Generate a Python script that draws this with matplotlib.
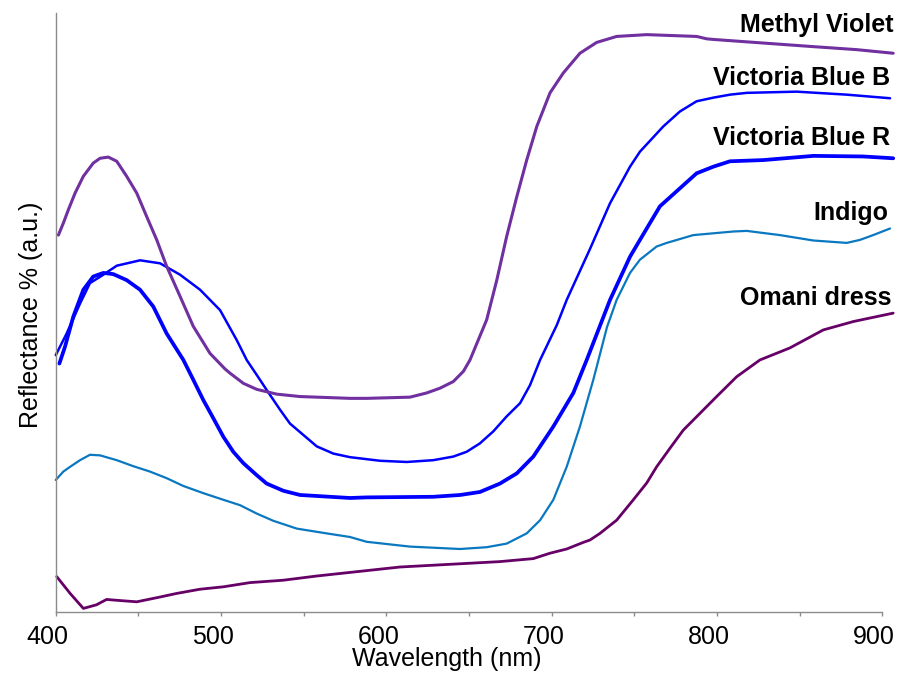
import matplotlib
matplotlib.use("Agg")
from matplotlib import pyplot as plt
from matplotlib import transforms

plt.rcParams['font.family'] = ['Liberation Sans', 'DejaVu Sans']

# 读图得到的数据 (nm, a.u.)
mv_nm = [401.6, 404.6, 407.6, 411.7, 416.7, 422.7, 426.8, 431.8, 436.9, 442.9, 449.0, 455.0,
         461.1, 467.1, 475.2, 483.2, 493.3, 502.4, 505.4, 513.5, 521.6, 533.7, 547.8, 578.0,
         588.1, 614.3, 624.4, 632.5, 640.5, 646.6, 650.6, 660.7, 666.8, 672.8, 678.9, 684.9,
         691.0, 699.0, 707.0, 717.1, 727.2, 739.3, 757.5, 777.6, 787.7, 793.8, 797.8, 807.9,
         828.0, 858.3, 884.5, 906.6]
mv_val = [62.8, 64.8, 67.0, 69.8, 72.6, 74.8, 75.6, 75.8, 75.1, 72.6, 69.8, 65.9,
          62.0, 57.6, 52.6, 47.6, 43.1, 40.5, 39.8, 38.1, 37.1, 36.3, 35.9, 35.6,
          35.6, 35.8, 36.5, 37.3, 38.4, 40.1, 42.0, 48.7, 55.3, 62.6, 69.2, 75.3,
          80.9, 86.5, 89.8, 93.1, 94.9, 95.9, 96.2, 96.0, 95.9, 95.5, 95.4, 95.2,
          94.8, 94.2, 93.7, 93.1]

vbb_nm = [400.0, 406.6, 414.7, 420.7, 428.8, 436.9, 451.0, 463.1, 475.2, 487.3, 499.4, 509.5,
          515.5, 521.6, 527.6, 535.7, 541.7, 549.8, 557.9, 567.9, 578.0, 596.2, 612.3, 628.4,
          640.5, 648.6, 656.6, 664.7, 672.8, 680.9, 686.9, 693.0, 703.1, 709.1, 723.2, 735.3,
          747.4, 753.4, 767.5, 777.6, 787.7, 797.8, 807.9, 818.0, 848.2, 878.5, 904.7]
vbb_val = [42.8, 46.4, 51.4, 54.8, 56.2, 57.7, 58.6, 58.1, 56.2, 53.7, 50.3, 45.3,
           42.0, 39.5, 37.0, 33.7, 31.4, 29.5, 27.6, 26.4, 25.8, 25.2, 25.0, 25.3,
           25.9, 26.7, 28.1, 30.1, 32.6, 34.8, 37.8, 42.0, 47.8, 52.0, 60.5, 68.1,
           74.2, 76.7, 80.9, 83.4, 85.1, 85.7, 86.2, 86.5, 86.7, 86.2, 85.6]

vbr_nm = [402.2, 405.6, 410.6, 416.7, 422.7, 428.8, 434.8, 442.9, 451.0, 459.0, 467.1, 477.2,
          483.2, 489.3, 495.3, 501.4, 507.4, 513.5, 521.6, 527.6, 537.7, 547.8, 578.0, 588.1,
          628.4, 644.6, 656.6, 668.7, 678.9, 688.9, 701.0, 713.1, 721.2, 735.3, 747.4, 753.4,
          765.5, 777.6, 787.7, 797.8, 807.9, 828.0, 858.3, 888.5, 906.6]
vbr_val = [41.4, 44.2, 49.2, 53.7, 55.9, 56.5, 56.3, 55.3, 53.7, 50.9, 46.4, 42.0,
           38.7, 35.3, 32.3, 29.2, 26.7, 24.8, 22.8, 21.4, 20.2, 19.5, 19.0, 19.1,
           19.2, 19.5, 20.0, 21.4, 23.1, 25.9, 30.9, 36.5, 42.0, 52.0, 59.2, 62.0,
           67.6, 70.6, 73.1, 74.2, 75.1, 75.3, 76.0, 75.9, 75.6]

ind_nm = [400.0, 404.6, 408.7, 414.7, 420.7, 426.8, 436.9, 446.9, 457.0, 467.1, 477.2, 489.3,
          501.4, 511.5, 521.6, 531.6, 545.8, 563.9, 578.0, 588.1, 614.3, 644.6, 660.7, 672.8,
          684.9, 693.0, 701.0, 709.1, 717.1, 725.2, 733.5, 739.3, 747.4, 753.4, 763.5, 769.6,
          785.7, 797.8, 809.9, 818.0, 838.1, 858.3, 878.5, 886.5, 894.5, 904.7]
ind_val = [22.0, 23.4, 24.2, 25.3, 26.2, 26.1, 25.3, 24.3, 23.4, 22.3, 21.0, 19.8,
           18.7, 17.8, 16.4, 15.2, 13.9, 13.1, 12.5, 11.7, 10.9, 10.5, 10.8, 11.4,
           13.1, 15.3, 18.7, 24.2, 30.9, 38.7, 47.5, 52.0, 56.5, 58.7, 60.9, 61.5,
           62.8, 63.1, 63.4, 63.5, 62.8, 61.9, 61.5, 62.0, 62.8, 63.9]

om_nm = [400.6, 408.7, 416.7, 424.6, 430.8, 434.8, 449.0, 463.1, 473.2, 487.3, 501.4, 517.5,
         537.7, 557.9, 578.0, 608.3, 648.6, 668.7, 688.9, 699.0, 709.1, 719.1, 723.2, 729.2,
         739.3, 749.4, 757.5, 763.5, 771.6, 779.6, 789.7, 799.8, 811.9, 826.0, 844.1, 864.3,
         882.5, 906.6]
om_val = [5.9, 3.1, 0.6, 1.2, 2.1, 2.0, 1.7, 2.5, 3.1, 3.8, 4.2, 4.9,
          5.3, 6.0, 6.6, 7.5, 8.1, 8.4, 8.9, 9.8, 10.5, 11.6, 12.0, 13.1,
          15.3, 18.7, 21.5, 24.2, 27.3, 30.3, 33.1, 35.9, 39.2, 42.0, 44.0, 47.0,
          48.4, 49.8]

names = ['Methyl Violet', 'Victoria Blue B', 'Victoria Blue R', 'Indigo', 'Omani dress']


def plot_spectra():
    fig = plt.figure(figsize=(8.99, 6.75), dpi=100)
    ax = fig.add_axes([0.062, 0.0933, 0.9194, 0.8874])

    kw = dict(clip_on=False, solid_joinstyle='round', solid_capstyle='round')
    ax.plot(om_nm, om_val, color='#660066', lw=2.0, **kw)
    ax.plot(ind_nm, ind_val, color='#0a78c0', lw=1.6, **kw)
    ax.plot(vbr_nm, vbr_val, color='#0000ff', lw=2.7, **kw)
    ax.plot(vbb_nm, vbb_val, color='#0000ff', lw=1.8, **kw)
    ax.plot(mv_nm, mv_val, color='#7030a0', lw=2.2, **kw)

    # 右侧标注
    label_y = [96.7, 87.8, 77.8, 65.3, 51.2]
    label_x = [906.6, 904.7, 904.7, 903.5, 905.4]
    for name, lx, ly in zip(names, label_x, label_y):
        ax.text(lx, ly, name, ha='right', va='baseline', fontsize=18, fontweight='bold',
                clip_on=False)

    ax.set_xlim(400, 900)
    ax.set_ylim(0, 99.8)
    ax.set_xticks(range(400, 901, 100))
    ax.set_xticks(range(450, 900, 100), minor=True)
    ax.tick_params(axis='x', which='both', direction='out', length=3, width=1,
                   color='#8c8c8c', labelsize=18, pad=6)
    ax.set_yticks([])
    for s in ['top', 'right']:
        ax.spines[s].set_visible(False)
    for s in ['left', 'bottom']:
        ax.spines[s].set_color('#8c8c8c')
        ax.spines[s].set_linewidth(1.0)

    # 刻度标签略微左移
    shift = transforms.ScaledTranslation(-0.08, 0, fig.dpi_scale_trans)
    for lab in ax.get_xticklabels():
        lab.set_transform(lab.get_transform() + shift)

    ax.set_xlabel('Wavelength (nm)', fontsize=18)
    ax.xaxis.set_label_coords(0.473, -0.058)
    ax.set_ylabel('Reflectance % (a.u.)', fontsize=18)
    ax.yaxis.set_label_coords(-0.016, 0.496)

    fig.savefig('out.png', dpi=100)


if __name__ == '__main__':
    plot_spectra()
